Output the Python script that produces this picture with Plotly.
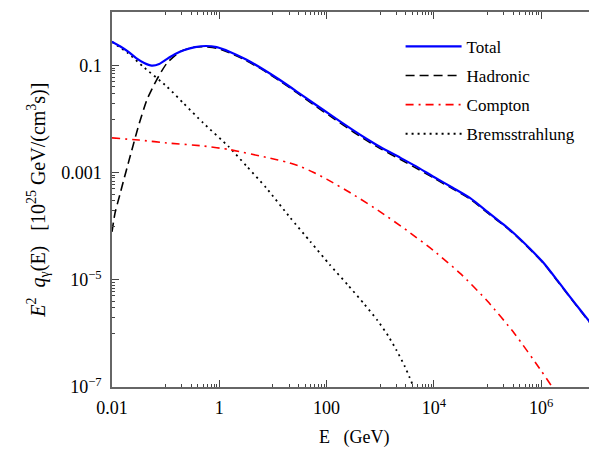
import plotly.graph_objects as go

# ---- data (E in GeV, E^2 q in 1e25 GeV/(cm^3 s)) ----
total_E = [0.01, 0.0141, 0.02, 0.0282, 0.0398, 0.055, 0.0759, 0.105, 0.148, 0.224,
           0.355, 0.562, 0.891, 1.585, 3.16, 6.31, 13.5, 28.2, 56.2, 126, 316, 562,
           1000, 2344, 5012, 1e4, 2.24e4, 4.68e4, 1e5, 2e5, 3.16e5, 6.31e5, 1.12e6,
           2e6, 3.16e6, 5.62e6, 7.94e6, 1e7]
total_q = [0.280, 0.229, 0.182, 0.138, 0.112, 0.100, 0.107, 0.132, 0.162, 0.195,
           0.221, 0.232, 0.221, 0.180, 0.130, 0.0871, 0.0537, 0.0324, 0.0200, 0.0115,
           0.00617, 0.00427, 0.00302, 0.00191, 0.00126, 8.32e-4, 5.25e-4, 3.39e-4,
           1.86e-4, 1.07e-4, 7.24e-5, 3.72e-5, 2.04e-5, 9.77e-6, 5.37e-6, 2.57e-6,
           1.66e-6, 1.23e-6]

hadronic_E = [0.01, 0.0114, 0.0141, 0.0162, 0.02, 0.0234, 0.0309, 0.0447, 0.0676,
              0.105, 0.186, 0.324, 0.562, 0.891, 1.585, 3.16, 6.31, 13.5, 28.2, 56.2,
              126, 316, 562, 1000, 2344, 5012, 1e4, 2.24e4, 4.68e4, 1e5, 2e5, 3.16e5,
              6.31e5, 1.12e6, 2e6, 3.16e6, 5.62e6, 7.94e6, 1e7]
hadronic_q = [7.9e-5, 1.78e-4, 3.98e-4, 6.76e-4, 1.48e-3, 2.63e-3, 7.24e-3, 0.0229,
              0.0537, 0.110, 0.182, 0.219, 0.224, 0.211, 0.172, 0.124, 0.0841, 0.0513,
              0.0309, 0.0188, 0.0108, 0.00575, 0.00398, 0.00282, 0.00178, 0.00117,
              7.94e-4, 5.01e-4, 3.24e-4, 1.78e-4, 1.04e-4, 7.08e-5, 3.63e-5, 2.0e-5,
              9.55e-6, 5.25e-6, 2.51e-6, 1.62e-6, 1.2e-6]

compton_E = [0.01, 0.0316, 0.12, 0.5, 1.585, 8.9, 17.8, 31.6, 56.2, 100, 316, 1000,
             3162, 1e4, 31623, 1e5, 316228, 1e6, 1.585e6, 1.8e6]
compton_q = [4.47e-3, 4.07e-3, 3.55e-3, 3.16e-3, 2.69e-3, 1.86e-3, 1.585e-3, 1.318e-3,
             1.023e-3, 7.59e-4, 3.89e-4, 1.86e-4, 8.32e-5, 3.47e-5, 1.29e-5, 3.98e-6,
             1.0e-6, 2.0e-7, 1.0e-7, 7.1e-8]

brems_E = [0.01, 0.02, 0.038, 0.105, 0.213, 0.5, 1.48, 3.24, 7.59, 20.9, 50.1, 115,
           251, 501, 891, 1413, 1995, 2818, 3548, 4169, 5012]
brems_q = [0.275, 0.170, 0.0955, 0.0407, 0.0200, 0.00851, 0.00309, 0.00132, 5.13e-4,
           1.45e-4, 5.13e-5, 1.91e-5, 7.94e-6, 3.55e-6, 1.74e-6, 8.91e-7, 4.9e-7,
           2.51e-7, 1.48e-7, 1.0e-7, 6.3e-8]

x_tickvals = [0.01, 1, 100, 1e4, 1e6]
x_ticktext = ["0.01", "1", "100", "10<sup>4</sup>", "10<sup>6</sup>"]
y_tickvals = [1e-7, 1e-5, 1e-3, 0.1]
y_ticktext = ["10<sup>\u22127</sup>", "10<sup>\u22125</sup>", "0.001", "0.1"]
x_minor_exps = [-1, 1, 3, 5]
y_minor_exps = [-6, -4, -2]
minor_mult = [1, 2, 3, 4, 5, 6, 7, 8, 9]

x_minor = [k * 10.0 ** m for m in x_minor_exps for k in minor_mult]
y_minor = [k * 10.0 ** m for m in y_minor_exps for k in minor_mult]

FONT = "Liberation Serif"
NB = "\u00a0"

fig = go.Figure()
fig.add_trace(go.Scatter(x=brems_E, y=brems_q, name="Bremsstrahlung", mode="lines",
                         line=dict(color="black", width=1.8, dash="2px,4px", shape="spline", smoothing=0.6),
                         legendgroup="d", legendrank=4))
fig.add_trace(go.Scatter(x=compton_E, y=compton_q, name="Compton", mode="lines",
                         line=dict(color="#ff0000", width=1.6, dash="8px,5px,2px,5px", shape="spline", smoothing=0.6),
                         legendgroup="c", legendrank=3))
fig.add_trace(go.Scatter(x=hadronic_E, y=hadronic_q, name="Hadronic", mode="lines",
                         line=dict(color="black", width=1.6, dash="9px,5px", shape="spline", smoothing=0.6),
                         legendgroup="b", legendrank=2))
fig.add_trace(go.Scatter(x=total_E, y=total_q, name="Total", mode="lines",
                         line=dict(color="#0000ff", width=2.2, shape="spline", smoothing=0.6),
                         legendgroup="a", legendrank=1))

axis_common = dict(
    type="log", showgrid=False, zeroline=False,
    showline=True, linecolor="#666666", linewidth=1.5,
    ticks="inside", ticklen=7, tickwidth=1, tickcolor="#444444",
    tickfont=dict(family=FONT, size=18, color="black"),
    tickmode="array",
)

fig.update_xaxes(**axis_common, range=[-2, 6.89], tickvals=x_tickvals, ticktext=x_ticktext,
                 mirror="ticks", ticklabelstandoff=4,
                 minor=dict(tickmode="array", tickvals=x_minor, ticks="inside", ticklen=3.5,
                            tickwidth=1, tickcolor="#444444"))
fig.update_yaxes(**axis_common, range=[-7, 0], tickvals=y_tickvals, ticktext=y_ticktext,
                 mirror=False, ticklabelstandoff=5,
                 minor=dict(tickmode="array", tickvals=y_minor, ticks="inside", ticklen=3.5,
                            tickwidth=1, tickcolor="#444444"))

fig.add_annotation(text="E" + NB * 3 + "(GeV)", xref="paper", yref="paper", x=0.507, y=-0.135,
                   showarrow=False, xanchor="center", yanchor="middle",
                   font=dict(family=FONT, size=18, color="black"))
fig.add_annotation(text="<i>E</i><sup>2</sup>" + NB * 2 + "<i>q</i><sub>\u03b3</sub>(E)" + NB * 3
                        + "[10<sup>25</sup> GeV/(cm<sup>3</sup>s)]",
                   xref="paper", yref="paper", x=-0.155, y=0.497, textangle=-90,
                   showarrow=False, xanchor="center", yanchor="middle",
                   font=dict(family=FONT, size=20, color="black"))

fig.update_layout(
    width=589, height=457,
    margin=dict(l=112, r=0, t=12, b=70, autoexpand=False),
    paper_bgcolor="white", plot_bgcolor="white",
    font=dict(family=FONT, color="black"),
    showlegend=True,
    legend=dict(x=0.605, y=0.955, xanchor="left", yanchor="top",
                bgcolor="rgba(0,0,0,0)", borderwidth=0, itemwidth=56,
                font=dict(family=FONT, size=17, color="black"),
                tracegroupgap=4, traceorder="grouped"),
)

fig.write_html("out.html")
